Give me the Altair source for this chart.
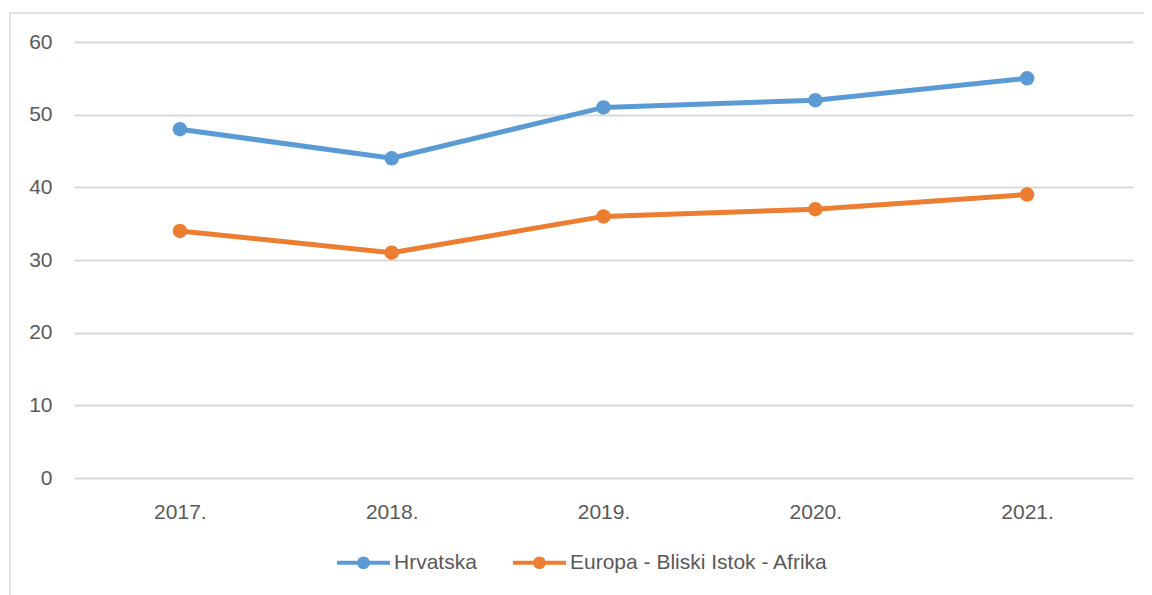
import altair as alt
import pandas as pd

years = ["2017.", "2018.", "2019.", "2020.", "2021."]
hrvatska = [48, 44, 51, 52, 55]
europa = [34, 31, 36, 37, 39]
series_names = ["Hrvatska", "Europa - Bliski Istok - Afrika"]
colors = ["#5B9BD5", "#ED7D31"]

rows = []
for y, v in zip(years, hrvatska):
    rows.append({"year": y, "value": v, "series": series_names[0]})
for y, v in zip(years, europa):
    rows.append({"year": y, "value": v, "series": series_names[1]})
df = pd.DataFrame(rows)

FONT = "Liberation Sans"
TXT = "#595959"

x_enc = alt.X("year:O", sort=years, title=None,
              scale=alt.Scale(type="point", padding=0.5),
              axis=alt.Axis(labelAngle=0, domain=False, ticks=False, grid=False,
                            labelPadding=23, labelFontSize=21, labelFont=FONT,
                            labelColor=TXT))
y_enc = alt.Y("value:Q", title=None,
              scale=alt.Scale(domain=[0, 60], nice=False),
              axis=alt.Axis(values=[0, 10, 20, 30, 40, 50, 60], domain=False,
                            ticks=False, grid=True, gridColor="#d9d9d9",
                            gridWidth=2, labelPadding=22, labelFontSize=21,
                            labelFont=FONT, labelColor=TXT))

color_scale = alt.Scale(domain=series_names, range=colors)

legend_path = ("M-1,-0.08 L1,-0.08 L1,0.08 L-1,0.08 Z "
               "M0.24,0 A0.24,0.24 0 1,1 -0.24,0 A0.24,0.24 0 1,1 0.24,0 Z")

base = alt.Chart(df)

lines = base.mark_line(strokeWidth=5).encode(
    x=x_enc, y=y_enc,
    color=alt.Color("series:N", scale=color_scale, legend=None),
)

points = base.mark_point(filled=True, size=210, opacity=1).encode(
    x=x_enc, y=y_enc,
    color=alt.Color("series:N", scale=color_scale, title=None,
                    legend=alt.Legend(orient="none", direction="horizontal",
                                      legendX=263, legendY=494,
                                      symbolType=legend_path, symbolSize=2809,
                                      symbolStrokeWidth=0, symbolOpacity=1,
                                      labelFont=FONT, labelFontSize=21,
                                      labelColor=TXT, labelOffset=4,
                                      columnPadding=36, padding=0,
                                      labelLimit=500)),
)

frame = alt.Chart(pd.DataFrame({"a": [0]})).mark_rect(
    fill=None, stroke="#d9d9d9", strokeWidth=1.5
).encode(
    x=alt.value(-64), x2=alt.value(1400),
    y=alt.value(-29), y2=alt.value(900),
)

chart = alt.layer(frame, lines, points).resolve_legend(
    color="independent"
).properties(
    width=1059, height=436,
    autosize=alt.AutoSizeParams(type="none"),
    padding={"left": 66, "top": 34, "right": 11, "bottom": 117},
    background="white",
).configure_view(stroke=None)

chart.save("out.html", embed_options={"renderer": "svg", "actions": False})
